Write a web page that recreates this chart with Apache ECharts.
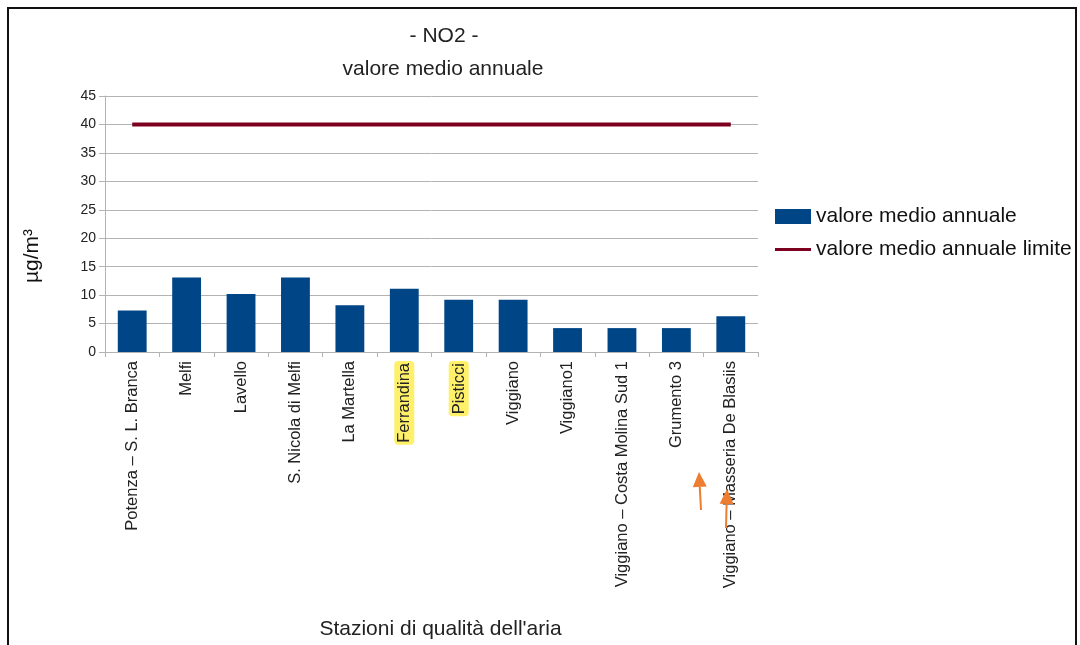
<!DOCTYPE html>
<html>
<head>
<meta charset="utf-8">
<script src="https://cdn.jsdelivr.net/npm/echarts@6/dist/echarts.min.js"></script>
<style>
  html, body { margin: 0; padding: 0; background: #fff; }
  #chart { width: 1080px; height: 645px; }
</style>
</head>
<body>
<div id="chart"></div>
<script>
const stations = ["Potenza – S. L. Branca", "Melfi", "Lavello", "S. Nicola di Melfi", "La Martella",
    "Ferrandina", "Pisticci", "Viggiano", "Viggiano1", "Viggiano – Costa Molina Sud 1",
    "Grumento 3", "Viggiano – Masseria De Blasiis"];
const mediaAnnuale = [7.3, 13.1, 10.2, 13.1, 8.2, 11.1, 9.2, 9.2, 4.2, 4.2, 4.2, 6.3];
const limite = [40, 40, 40, 40, 40, 40, 40, 40, 40, 40, 40, 40];
const highlighted = ["Ferrandina", "Pisticci"];

const font = "Liberation Sans";

// orange arrow annotations
function arrow(x1, y1, x2, y2) {
    const ang = Math.atan2(y2 - y1, x2 - x1);
    const len = 15, half = 7;
    const bx = x2 - len * Math.cos(ang), by = y2 - len * Math.sin(ang);
    const px = -Math.sin(ang) * half, py = Math.cos(ang) * half;
    return [
        { type: "line", shape: { x1: x1, y1: y1, x2: bx, y2: by },
          style: { stroke: "#ed7d31", lineWidth: 2 }, z: 100 },
        { type: "polygon", shape: { points: [[x2, y2], [bx + px, by + py], [bx - px, by - py]] },
          style: { fill: "#ed7d31" }, z: 100 }
    ];
}

const chart = echarts.init(document.getElementById("chart"));
chart.setOption({
    animation: false,
    textStyle: { fontFamily: font },
    title: [
        { text: "- NO2 -", left: 439, top: 21, textAlign: "center",
          textStyle: { fontSize: 21, fontWeight: "normal", color: "#222" } },
        { text: "valore medio annuale", left: 438, top: 54, textAlign: "center",
          textStyle: { fontSize: 21, fontWeight: "normal", color: "#222" } }
    ],
    legend: {
        orient: "vertical",
        left: 775,
        top: 206,
        padding: 0,
        itemWidth: 36,
        itemHeight: 15,
        itemGap: 12,
        textStyle: { fontSize: 21, color: "#111" },
        data: [
            { name: "valore medio annuale", icon: "rect" },
            { name: "valore medio annuale limite", icon: "path://M0,0H36V3H0Z" }
        ]
    },
    grid: { left: 105, right: 322, top: 96, bottom: 293 },
    xAxis: {
        type: "category",
        data: stations,
        name: "Stazioni di qualità dell'aria",
        nameLocation: "middle",
        nameGap: 267,
        nameTextStyle: { fontSize: 21, color: "#222", padding: [0, 0, 0, 18] },
        axisLine: { lineStyle: { color: "#b3b3b3" } },
        axisTick: { show: true, length: 5, lineStyle: { color: "#b3b3b3" } },
        axisLabel: {
            interval: 0,
            rotate: 90,
            margin: 9,
            fontSize: 16.5,
            color: "#222",
            formatter: v => highlighted.includes(v) ? "{hl|" + v + "}" : v,
            rich: {
                hl: { backgroundColor: "#fff06a", borderRadius: 4, padding: [2, 2, 1, 2],
                      fontSize: 16.5, color: "#222" }
            }
        }
    },
    yAxis: {
        type: "value",
        min: 0,
        max: 45,
        interval: 5,
        name: "µg/m³",
        nameLocation: "middle",
        nameGap: 62,
        nameRotate: 90,
        nameTextStyle: { fontSize: 21, color: "#111", padding: [0, 64, 0, 0] },
        axisLine: { show: true, lineStyle: { color: "#b3b3b3" } },
        axisTick: { show: true, length: 6, lineStyle: { color: "#b3b3b3" } },
        axisLabel: { fontSize: 14, color: "#222", margin: 9 },
        splitLine: { lineStyle: { color: "#b3b3b3" } }
    },
    series: [
        {
            name: "valore medio annuale",
            type: "bar",
            data: mediaAnnuale,
            barWidth: "53%",
            itemStyle: { color: "#004586" }
        },
        {
            name: "valore medio annuale limite",
            type: "line",
            data: limite,
            symbol: "none",
            lineStyle: { color: "#7e0021", width: 4 },
            itemStyle: { color: "#7e0021" }
        }
    ],
    graphic: [
        { type: "rect", shape: { x: 8, y: 8, width: 1068, height: 660 },
          style: { fill: null, stroke: "#111", lineWidth: 2 }, z: 100 }
    ].concat(arrow(701, 510, 699, 472), arrow(726, 528, 727, 489))
});
</script>
</body>
</html>
